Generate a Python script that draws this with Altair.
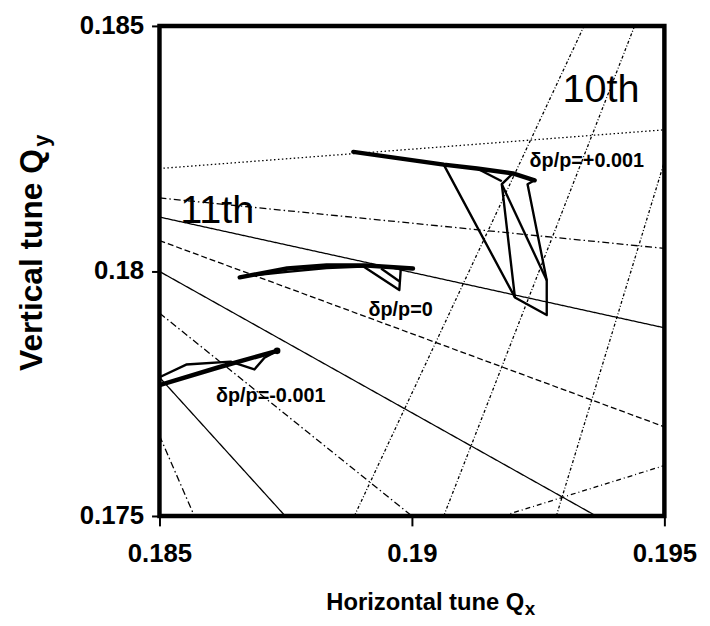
import altair as alt
import pandas as pd

FONT = "Liberation Sans"

# ---- resonance lines: start / end point of each line (tune units) ----
res_style = ["dot", "dashdot", "solid", "dash", "solid", "dashdot", "solid", "dashdot",
             "dot10", "dot10", "dot10", "dashdot2"]
res_x1 = [0.185, 0.185, 0.185, 0.185, 0.185, 0.185, 0.185, 0.185,
          0.18886, 0.19063, 0.19286, 0.19180]
res_y1 = [0.18209, 0.18149, 0.18110, 0.18062, 0.17999, 0.17914, 0.17783, 0.17664,
          0.175, 0.175, 0.175, 0.175]
res_x2 = [0.195, 0.195, 0.195, 0.195, 0.19365, 0.19000, 0.18749, 0.18569,
          0.19341, 0.19441, 0.195, 0.195]
res_y2 = [0.18288, 0.18046, 0.17884, 0.17682, 0.175, 0.175, 0.175, 0.175,
          0.185, 0.185, 0.18223, 0.17603]

dash_styles = {
    "dot": [1.5, 2.5],
    "dashdot": [7, 3, 1.5, 3],
    "solid": [1, 0],
    "dash": [6, 3],
    "dot10": [3, 2, 1, 2],
    "dashdot2": [5, 3, 1, 3],
}

# ---- tune footprints ----
# dp/p = +0.001
fp_plus_thick_x = [0.18884, 0.19063, 0.19129, 0.19200, 0.19243]
fp_plus_thick_y = [0.18243, 0.18217, 0.18209, 0.18199, 0.18185]
fp_plus_a_x = [0.19063, 0.19204, 0.19267, 0.19267, 0.19229, 0.19243]
fp_plus_a_y = [0.18217, 0.17946, 0.17910, 0.17981, 0.18177, 0.18185]
fp_plus_b_x = [0.19200, 0.19178, 0.19204]
fp_plus_b_y = [0.18199, 0.18177, 0.17946]
fp_plus_c_x = [0.19178, 0.19267]
fp_plus_c_y = [0.18177, 0.17981]
fp_plus_d_x = [0.19129, 0.19178]
fp_plus_d_y = [0.18209, 0.18183]
# dp/p = 0
fp_zero_thick_x = [0.18659, 0.18753, 0.18831, 0.18910, 0.19002]
fp_zero_thick_y = [0.17987, 0.18005, 0.18011, 0.18011, 0.18005]
fp_zero_a_x = [0.18675, 0.18753, 0.18831, 0.18904]
fp_zero_a_y = [0.17990, 0.17998, 0.18006, 0.18009]
fp_zero_b_x = [0.18904, 0.18975, 0.18978]
fp_zero_b_y = [0.18009, 0.17961, 0.18005]
fp_zero_c_x = [0.18939, 0.18975]
fp_zero_c_y = [0.18005, 0.17979]
# dp/p = -0.001
fp_minus_thick_x = [0.185, 0.18616, 0.18733]
fp_minus_thick_y = [0.17767, 0.17803, 0.17837]
fp_minus_a_x = [0.185, 0.18553, 0.18641, 0.18688, 0.18708, 0.18733]
fp_minus_a_y = [0.17783, 0.17809, 0.17815, 0.17799, 0.17823, 0.17837]

# ---- annotations ----
big_text = ["11th", "10th"]
big_x = [0.18541, 0.19298]
big_y = [0.18098, 0.18344]
dp_text = ["δp/p=+0.001", "δp/p=0", "δp/p=-0.001"]
dp_x = [0.19233, 0.18914, 0.18612]
dp_y = [0.18213, 0.17908, 0.17732]

x_ticks = [0.185, 0.19, 0.195]
y_ticks = [0.175, 0.18, 0.185]

xs = alt.Scale(domain=[0.185, 0.195], nice=False, zero=False)
ys = alt.Scale(domain=[0.175, 0.185], nice=False, zero=False)

x_axis = alt.Axis(values=x_ticks, format=".3~f", grid=False, domain=False,
                  tickSize=10, tickWidth=2, tickColor="black",
                  labelFont=FONT, labelFontSize=26, labelFontWeight="bold",
                  labelColor="black", labelPadding=15, labelFlush=False,
                  labelOverlap=False,
                  title="Horizontal tune Q", titleFont=FONT, titleFontSize=24,
                  titleFontWeight="bold", titleColor="black",
                  titleX=368, titleY=94, titleAlign="right",
                  titleBaseline="alphabetic")
y_axis = alt.Axis(values=y_ticks, format=".3~f", grid=False, domain=False,
                  tickSize=8, tickWidth=2, tickColor="black",
                  labelFont=FONT, labelFontSize=26, labelFontWeight="bold",
                  labelColor="black", labelPadding=8, labelFlush=False,
                  labelOverlap=False,
                  title="Vertical tune Q", titleFont=FONT, titleFontSize=32,
                  titleFontWeight="bold", titleColor="black",
                  titleX=-119, titleY=124, titleAngle=270, titleAlign="right",
                  titleBaseline="alphabetic")

X = alt.X("x:Q", scale=xs, axis=x_axis)
Y = alt.Y("y:Q", scale=ys, axis=y_axis)

res_df = pd.DataFrame({"style": res_style, "x": res_x1, "y": res_y1,
                       "x2": res_x2, "y2": res_y2})

layers = []
for st, dash in dash_styles.items():
    sub = res_df[res_df["style"] == st]
    layers.append(alt.Chart(sub).mark_rule(color="black", strokeWidth=1.3,
                                           strokeDash=dash, clip=True).encode(
        x=X, y=Y, x2="x2:Q", y2="y2:Q"))


def fp_frame(parts):
    rows = []
    for name, xv, yv in parts:
        for i, (a, b) in enumerate(zip(xv, yv)):
            rows.append({"seg": name, "ord": i, "x": a, "y": b})
    return pd.DataFrame(rows)


thick_df = fp_frame([("p", fp_plus_thick_x, fp_plus_thick_y),
                     ("z", fp_zero_thick_x, fp_zero_thick_y),
                     ("m", fp_minus_thick_x, fp_minus_thick_y)])
thin_df = fp_frame([("pa", fp_plus_a_x, fp_plus_a_y),
                    ("pb", fp_plus_b_x, fp_plus_b_y),
                    ("pc", fp_plus_c_x, fp_plus_c_y),
                    ("pd", fp_plus_d_x, fp_plus_d_y),
                    ("za", fp_zero_a_x, fp_zero_a_y),
                    ("zb", fp_zero_b_x, fp_zero_b_y),
                    ("zc", fp_zero_c_x, fp_zero_c_y),
                    ("ma", fp_minus_a_x, fp_minus_a_y)])

layers.append(alt.Chart(thin_df).mark_line(color="black", strokeWidth=2.4,
                                           strokeJoin="round", clip=True).encode(
    x=X, y=Y, detail="seg:N", order="ord:Q"))
layers.append(alt.Chart(thick_df).mark_line(color="black", strokeWidth=4.5,
                                            strokeCap="round", strokeJoin="round",
                                            clip=True).encode(
    x=X, y=Y, detail="seg:N", order="ord:Q"))

end_df = pd.DataFrame({"x": [fp_minus_thick_x[-1]], "y": [fp_minus_thick_y[-1]]})
layers.append(alt.Chart(end_df).mark_point(filled=True, color="black", size=45,
                                           opacity=1).encode(x=X, y=Y))

big_df = pd.DataFrame({"t": big_text, "x": big_x, "y": big_y})
layers.append(alt.Chart(big_df).mark_text(font=FONT, fontSize=40, align="left",
                                          baseline="alphabetic", color="black").encode(
    x=X, y=Y, text="t:N"))

dp_df = pd.DataFrame({"t": dp_text, "x": dp_x, "y": dp_y})
layers.append(alt.Chart(dp_df).mark_text(font=FONT, fontSize=20, fontWeight="bold",
                                         align="left", baseline="alphabetic",
                                         color="black").encode(
    x=X, y=Y, text="t:N"))

# subscripts of the axis titles
sub_df = pd.DataFrame({"t": ["x"]})
layers.append(alt.Chart(sub_df).mark_text(font=FONT, fontSize=19, fontWeight="bold",
                                          align="left", baseline="alphabetic",
                                          color="black").encode(
    x=alt.value(369), y=alt.value(595), text="t:N"))
suby_df = pd.DataFrame({"t": ["y"]})
layers.append(alt.Chart(suby_df).mark_text(font=FONT, fontSize=22, fontWeight="bold",
                                           align="left", baseline="alphabetic",
                                           angle=270, color="black").encode(
    x=alt.value(-112), y=alt.value(122), text="t:N"))

chart = alt.layer(*layers).properties(
    width=510, height=495,
    autosize=alt.AutoSizeParams(type="none"),
    padding={"left": 153, "top": 15, "right": 38, "bottom": 106},
    background="white",
).configure_view(stroke="black", strokeWidth=4.5)

chart.save("out.html", embed_options={"renderer": "svg", "actions": False})
